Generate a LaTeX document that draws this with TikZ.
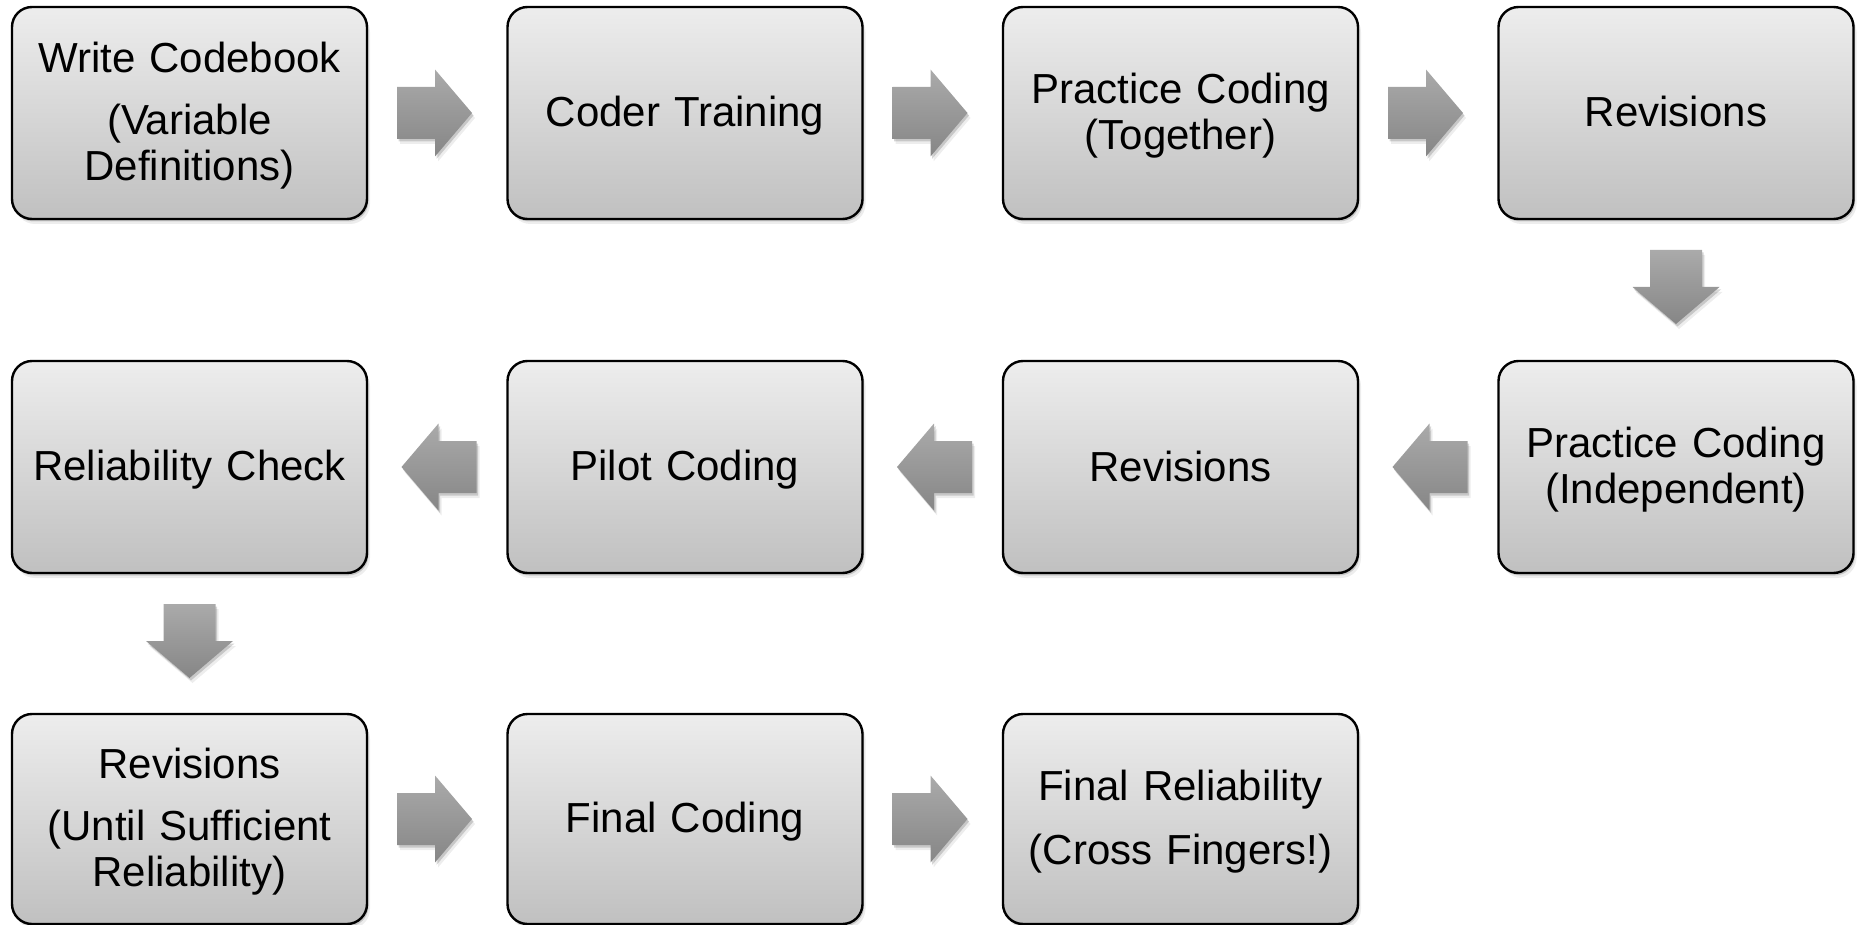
\documentclass[tikz,border=0pt]{standalone}
\usepackage{fontspec}
\setmainfont{Liberation Sans}
\usetikzlibrary{calc,shadows}
\definecolor{boxtop}{HTML}{EDEDED}
\definecolor{boxbot}{HTML}{C0C0C0}
\definecolor{arrtop}{HTML}{AAAAAA}
\definecolor{arrbot}{HTML}{868686}

% fixed line height so every label sits at the same place in its box
\newcommand\lnst{\rule[-8pt]{0pt}{44pt}}

% block arrows placed next to a source node
\newcommand\arrowright[1]{%
  \shade[blockarrow] ($(#1.east)+(30,-26)$) -- ++(38,0) -- ++(0,-17.5) -- ++(37,43.5)
    -- ++(-37,43.5) -- ++(0,-17.5) -- ++(-38,0) -- cycle;}
\newcommand\arrowleft[1]{%
  \shade[blockarrow] ($(#1.west)+(-31,-26)$) -- ++(-38,0) -- ++(0,-17.5) -- ++(-37,43.5)
    -- ++(37,43.5) -- ++(0,-17.5) -- ++(38,0) -- cycle;}
\newcommand\arrowdown[1]{%
  \shade[blockarrow] ($(#1.south)+(-26,31)$) -- ++(0,37) -- ++(-17.5,0) -- ++(43.5,37)
    -- ++(43.5,-37) -- ++(-17.5,0) -- ++(0,-37) -- cycle;}

\begin{document}
\begin{tikzpicture}[x=1pt,y=-1pt,
  softshadow/.style={
    drop shadow={shadow xshift=1.5pt,shadow yshift=-2.5pt,opacity=.16,fill=black},
    drop shadow={shadow xshift=3pt,shadow yshift=-5pt,opacity=.07,fill=black}},
  stepbox/.style={rectangle, rounded corners=20pt, draw=black, line width=2.4pt,
    top color=boxtop, bottom color=boxbot, minimum width=355pt, minimum height=212pt,
    text width=350pt, align=center, inner sep=0pt, outer sep=0pt,
    font=\fontsize{42}{44}\selectfont, softshadow},
  blockarrow/.style={top color=arrtop, bottom color=arrbot, softshadow}
]
\useasboundingbox (0,0) rectangle (1858,925);

% row 1
\node[stepbox] (n1)  at (189.5,113) {\lnst Write Codebook\\[18pt]\lnst(Variable\\\lnst Definitions)};
\node[stepbox] (n2)  at (685,113)   {\lnst Coder Training};
\node[stepbox] (n3)  at (1180.5,113){\lnst Practice Coding\\\lnst(Together)};
\node[stepbox] (n4)  at (1676,113)  {\lnst Revisions};
% row 2
\node[stepbox] (n5)  at (1676,467)  {\lnst Practice Coding\\\lnst(Independent)};
\node[stepbox] (n6)  at (1180.5,467){\lnst Revisions};
\node[stepbox] (n7)  at (685,467)   {\lnst Pilot Coding};
\node[stepbox] (n8)  at (189.5,467) {\lnst Reliability Check};
% row 3
\node[stepbox, minimum height=210pt] (n9)  at (189.5,819) {\lnst Revisions\\[18pt]\lnst(Until Sufficient\\\lnst Reliability)};
\node[stepbox, minimum height=210pt] (n10) at (685,819)   {\lnst Final Coding};
\node[stepbox, minimum height=210pt] (n11) at (1180.5,819){\lnst Final Reliability\\[18pt]\lnst(Cross Fingers!)};

% flow
\arrowright{n1}
\arrowright{n2}
\arrowright{n3}
\arrowdown{n4}
\arrowleft{n5}
\arrowleft{n6}
\arrowleft{n7}
\arrowdown{n8}
\arrowright{n9}
\arrowright{n10}
\end{tikzpicture}
\end{document}
